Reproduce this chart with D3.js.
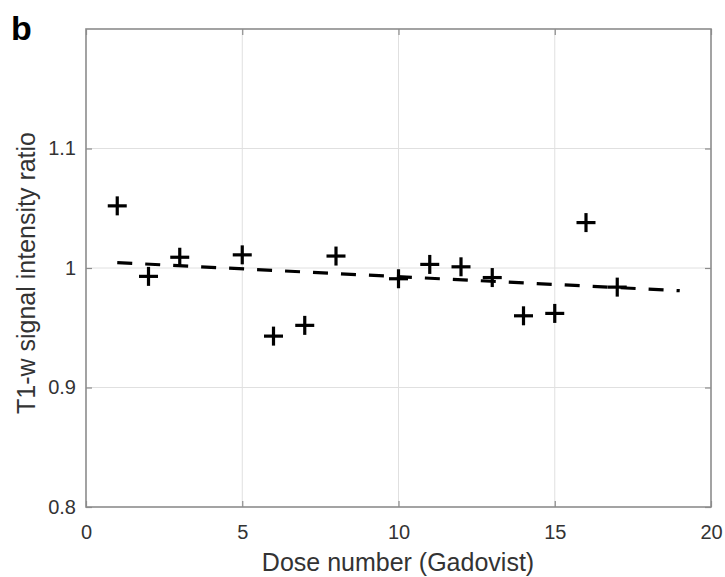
<!DOCTYPE html>
<html><head><meta charset="utf-8">
<script src="https://cdn.jsdelivr.net/npm/d3@7"></script>
<style>body{margin:0;background:#fff;}svg{display:block;}</style>
</head><body>
<svg id="chart" width="725" height="577"></svg>
<script>
const doses = [1,2,3,5,6,7,8,10,11,12,13,14,15,16,17];
const ratios = [1.052,0.993,1.009,1.011,0.943,0.952,1.010,0.991,1.003,1.001,0.992,0.960,0.962,1.038,0.984];
const fitX = [1,19];
const fitY = [1.0045,0.981];
const xTicks = [0,5,10,15,20];
const yTicks = [0.8,0.9,1.0,1.1];

const svg = d3.select("#chart");
const L=86, R=711, T=29, B=507;
const x = d3.scaleLinear().domain([0,20]).range([L,R]);
const y = d3.scaleLinear().domain([0.8,1.2]).range([B,T]);
const font = "Arial, 'Liberation Sans', sans-serif";

// grid
const g = svg.append("g");
g.selectAll("line.vx").data(xTicks.slice(1,-1)).enter().append("line")
  .attr("x1",d=>x(d)).attr("x2",d=>x(d)).attr("y1",T).attr("y2",B)
  .attr("stroke","#e0e0e0").attr("stroke-width",1);
g.selectAll("line.hy").data(yTicks.slice(1)).enter().append("line")
  .attr("x1",L).attr("x2",R).attr("y1",d=>y(d)).attr("y2",d=>y(d))
  .attr("stroke","#e0e0e0").attr("stroke-width",1);

// axes
const xAx = d3.axisBottom(x).tickValues(xTicks).tickSize(-6).tickPadding(18).tickFormat(d3.format("d"));
const yAx = d3.axisLeft(y).tickValues(yTicks).tickSize(-6).tickPadding(10).tickFormat(d=>d===1?"1":d3.format(".1f")(d));
const xa = svg.append("g").attr("transform",`translate(0,${B})`).call(xAx);
const ya = svg.append("g").attr("transform",`translate(${L},0)`).call(yAx);
const xt = svg.append("g").attr("transform",`translate(0,${T})`).call(d3.axisTop(x).tickValues(xTicks).tickSize(-6).tickFormat(""));
const yr = svg.append("g").attr("transform",`translate(${R},0)`).call(d3.axisRight(y).tickValues(yTicks).tickSize(-6).tickFormat(""));
[xa,ya,xt,yr].forEach(a=>{
  a.select(".domain").remove();
  a.selectAll(".tick line").attr("stroke","#8c8c8c").attr("stroke-width",1.2);
  a.selectAll("text").attr("font-family",font).attr("font-size",20).attr("fill","#333");
});
svg.append("rect").attr("x",L).attr("y",T).attr("width",R-L).attr("height",B-T)
  .attr("fill","none").attr("stroke","#8c8c8c").attr("stroke-width",1.6);

// fit line
const line = d3.line().x(d=>x(d[0])).y(d=>y(d[1]));
svg.append("path").datum(fitX.map((v,i)=>[v,fitY[i]])).attr("d",line)
  .attr("fill","none").attr("stroke","#000").attr("stroke-width",3.2).attr("stroke-dasharray","15,13");

// markers
const s = 9.5;
const pts = svg.append("g").selectAll("g").data(doses.map((d,i)=>[d,ratios[i]])).enter().append("g")
  .attr("transform",d=>`translate(${x(d[0])},${y(d[1])})`);
pts.append("line").attr("x1",-s).attr("x2",s).attr("stroke","#000").attr("stroke-width",3.2);
pts.append("line").attr("y1",-s).attr("y2",s).attr("stroke","#000").attr("stroke-width",3.2);

// labels
svg.append("text").attr("x",398).attr("y",571).attr("text-anchor","middle")
  .attr("font-family",font).attr("font-size",25).attr("fill","#333").text("Dose number (Gadovist)");
svg.append("text").attr("transform",`translate(35,273) rotate(-90)`).attr("text-anchor","middle")
  .attr("font-family",font).attr("font-size",25).attr("fill","#333").text("T1-w signal intensity ratio");
svg.append("text").attr("x",11).attr("y",40).attr("font-family",font).attr("font-size",34)
  .attr("font-weight","bold").attr("fill","#000").text("b");
</script>
</body></html>
